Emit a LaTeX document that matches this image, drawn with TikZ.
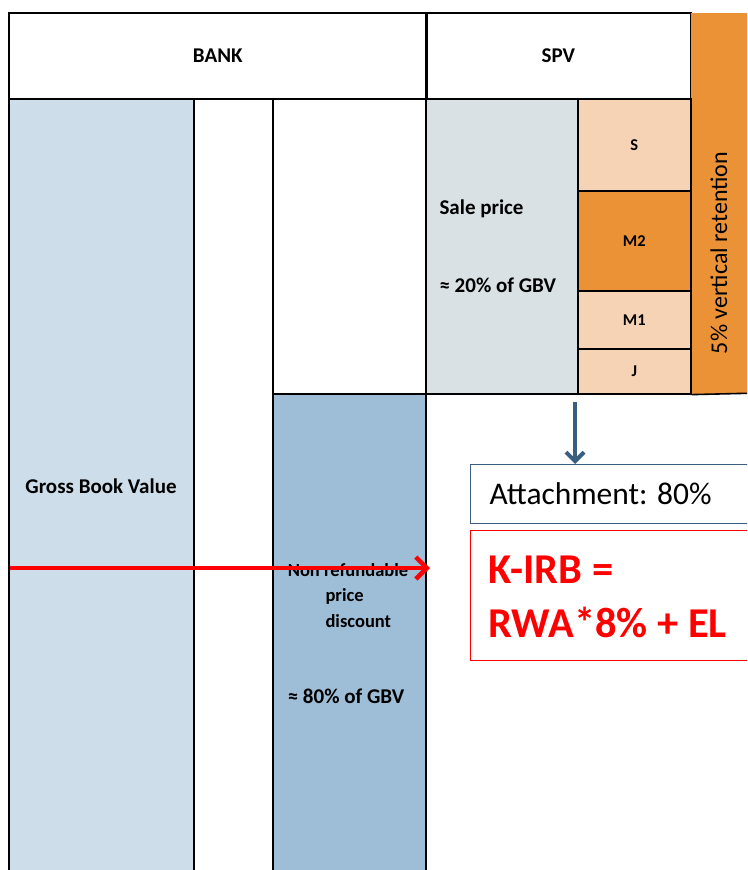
\documentclass[tikz,border=0pt]{standalone}
\usepackage{fontspec}
\setmainfont{Carlito}
\usetikzlibrary{arrows.meta,positioning,calc}
\definecolor{gbvblue}{RGB}{205,221,234}
\definecolor{discblue}{RGB}{158,189,214}
\definecolor{salegris}{RGB}{217,225,228}
\definecolor{tranpeach}{RGB}{245,211,180}
\definecolor{retor}{RGB}{235,146,55}
\definecolor{attblue}{RGB}{58,94,128}
\definecolor{kred}{RGB}{255,0,0}

\begin{document}
\begin{tikzpicture}[x=1pt, y=-1pt,
  cell/.style={rectangle, draw=black, line width=1.6pt, anchor=north west, inner sep=0pt},
  lbl/.style={font=\fontsize{21}{24}\selectfont\bfseries},
  sublbl/.style={font=\fontsize{18.5}{22}\selectfont\bfseries},
  tr/.style={font=\fontsize{16.5}{18}\selectfont\bfseries},
  box/.style={rectangle, anchor=north west, inner sep=0pt, line width=1.2pt}
]
  \clip (0,0) rectangle (747,870);
  \fill[white] (0,0) rectangle (747,870);

  % Header
  \node[cell, minimum width=418pt, minimum height=86pt] (bank) at (8,12) {};
  \node[cell, minimum width=265pt, minimum height=86pt] (spv) at (425,12) {};
  \node[lbl] at (bank.center) {BANK};
  \node[lbl] at (spv.center) {SPV};

  % Retention column
  \node[cell, draw=none, fill=retor, minimum width=70pt, minimum height=381pt] (ret) at (690,12) {};
  \node[font=\fontsize{24}{26}\selectfont, rotate=90] at (719,253) {5\% vertical retention};

  % Bank columns
  \node[cell, fill=gbvblue, minimum width=185pt, minimum height=800pt] (gbv) at (8,98) {};
  \node[cell, minimum width=79pt, minimum height=800pt] (gap) at (193,98) {};
  \node[cell, minimum width=153pt, minimum height=295pt] (blank) at (272,98) {};
  \node[cell, fill=discblue, minimum width=153pt, minimum height=500pt] (disc) at (272,393) {};

  % SPV columns
  \node[cell, fill=salegris, minimum width=152pt, minimum height=295pt] (sale) at (425,98) {};
  \node[cell, fill=tranpeach, minimum width=113pt, minimum height=92pt] (trS) at (577,98) {};
  \node[cell, fill=retor, minimum width=113pt, minimum height=100pt] (trM2) at (577,190) {};
  \node[cell, fill=tranpeach, minimum width=113pt, minimum height=58pt] (trM1) at (577,290) {};
  \node[cell, fill=tranpeach, minimum width=113pt, minimum height=45pt] (trJ) at (577,348) {};
  \draw[line width=1.6pt] (trJ.south east) -- (760,393);

  \node[tr] at (trS.center) {S};
  \node[tr] at (trM2.center) {M2};
  \node[tr] at (trM1.center) {M1};
  \node[tr] at (trJ.center) {J};

  \node[lbl, anchor=west] at (436,209) {Sale price};
  \node[lbl, anchor=west] at (436,285) {≈ 20\% of GBV};

  % Labels bank side
  \node[lbl] at (101,486) {Gross Book Value};
  \node[sublbl] (nonref) at (348,570) {Non refundable};
  \node[sublbl, anchor=west] at (322,596) {price};
  \node[sublbl, anchor=west] at (322,621) {discount};
  \node[lbl] at (346,696) {≈ 80\% of GBV};

  % Attachment and capital
  \node[box, draw=attblue, fill=white, minimum width=290pt, minimum height=59pt] (att) at (470,464) {};
  \node[font=\fontsize{31.5}{34}\selectfont, anchor=west] at (486,494) {Attachment: 80\%};
  \node[box, draw=kred, fill=white, minimum width=290pt, minimum height=130pt] (kirb) at (470,530) {};
  \node[font=\fontsize{42.5}{54}\selectfont\bfseries, text=kred, anchor=north west, align=left, inner sep=0pt] at (488,556) {K-IRB =\\RWA*8\% + EL};

  % Arrows
  \coordinate (tdown) at (575,402);
  \coordinate (rstart) at (10,568);
  \coordinate (rend) at (430,568);
  \draw[attblue, line width=4pt, -{Straight Barb[length=9pt, width=18pt]}] (tdown) -- (tdown |- att.north);
  \draw[kred, line width=4.5pt, -{Straight Barb[length=11pt, width=22pt]}] (rstart) -- (rend);
\end{tikzpicture}
\end{document}
